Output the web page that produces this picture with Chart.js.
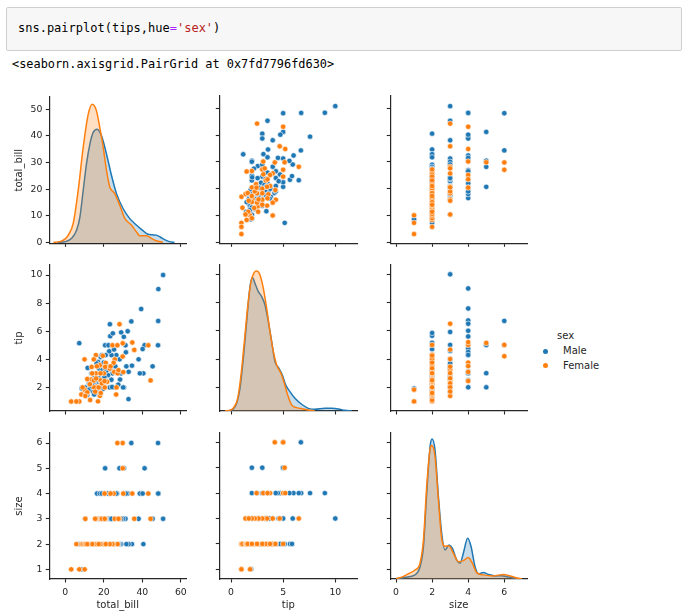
<!DOCTYPE html>
<html><head><meta charset="utf-8">
<script src="https://cdn.jsdelivr.net/npm/chart.js@4/dist/chart.umd.min.js"></script>
<style>
body{margin:0;width:682px;height:615px;background:#fff;position:relative;overflow:hidden;font-family:"DejaVu Sans",sans-serif;}
.cell{position:absolute;left:6px;top:7px;width:676px;height:44px;background:#f7f7f7;border:1px solid #cfcfcf;border-radius:2px;box-sizing:border-box;}
.code{position:absolute;left:18px;top:20px;font-size:12px;font-family:"DejaVu Sans Mono",monospace;white-space:pre;line-height:16px;color:#000;}
.out{position:absolute;left:12px;top:56px;font-size:11.9px;font-family:"DejaVu Sans Mono",monospace;white-space:pre;line-height:16px;color:#000;}
.op{color:#aa22ff}.str{color:#ba2121}
canvas{position:absolute}
.lg{position:absolute;font-size:10px;color:#262626;line-height:12px;white-space:nowrap}
.dot{position:absolute;width:5px;height:5px;border-radius:50%}
</style></head><body>
<div class="cell"></div>
<div class="code">sns.pairplot(tips,hue<span class="op">=</span><span class="str">'sex'</span>)</div>
<div class="out">&lt;seaborn.axisgrid.PairGrid at 0x7fd7796fd630&gt;</div>
<div class="lg" style="left:557px;top:330px">sex</div>
<div class="dot" style="left:542.5px;top:348.5px;background:#1f77b4"></div>
<div class="lg" style="left:563px;top:345px">Male</div>
<div class="dot" style="left:542.5px;top:363px;background:#ff7f0e"></div>
<div class="lg" style="left:563px;top:360px">Female</div>
<script>
// ---- data: [total_bill, tip, size]
const maleRows = [
[50.81,10.00,3],[48.33,9.00,4],[48.27,6.73,4],[48.17,5.00,6],[39.42,7.58,4],
[45.35,3.50,3],[40.55,3.00,2],[38.73,3.00,4],[38.07,4.00,3],[41.19,5.00,5],
[40.17,4.73,4],[32.83,1.17,2],[34.30,6.70,6],[34.63,3.55,2],[32.40,6.00,4],
[31.27,5.00,3],[30.46,2.00,5],[28.15,3.00,5],[20.69,5.00,5],[23.17,6.50,4],
[23.33,5.65,2],[22.42,5.00,2],[24.71,5.85,2],[7.25,5.15,2],[11.61,3.39,2],
[8.77,2.00,2],[8.58,1.92,1],[30.06,2.00,3],[29.03,5.92,3],[28.44,2.56,2],
[30.40,5.60,4],[26.88,3.12,4],[26.50,4.30,4],[22.00,3.50,4],[20.45,3.00,4],
[16.49,2.00,4],[31.50,4.50,4],[32.90,3.11,2],[31.71,3.50,2],[29.00,3.00,2],
[24.50,3.00,2],[23.10,2.00,2],[24.90,2.00,2],[24.00,4.30,2],[22.80,4.57,3],
[23.60,3.30,3],[21.00,4.30,2],[22.20,2.87,2],[10.34,1.66,3],[10.30,2.00,2],
[11.40,1.46,2],[13.60,1.80,2],[14.50,1.70,2],[16.20,1.70,2],[17.90,1.50,2],
[19.70,1.90,2],[17.90,2.00,2],[18.80,2.30,2],[16.20,2.35,2],[14.50,2.64,2],
[16.20,3.00,2],[17.60,3.35,2],[18.80,3.58,2],[20.00,3.77,2],[21.40,3.20,2],
[20.50,2.64,2],[17.00,3.82,2],[18.40,4.17,2],[13.60,3.00,2],[12.40,2.28,2],
[15.30,2.15,2],[21.00,2.40,2],[19.40,3.25,2],[15.50,2.50,2],[13.00,2.00,2],
[20.29,2.75,3],[17.59,2.64,3],[24.27,2.03,3],[21.01,3.50,3],[16.29,3.71,3],
[20.65,3.35,3],[23.95,2.55,3],[18.00,2.50,4],[19.00,4.29,4],[28.20,4.00,2],
[26.00,3.50,2],[27.50,2.20,2],[25.30,4.70,2],[15.00,1.50,2],[12.00,1.80,2]
];
const femaleRows = [
[3.07,1.00,1],[7.25,1.00,1],[10.07,1.83,1],
[5.75,1.00,2],[16.99,1.01,2],[12.90,1.10,2],[8.35,1.50,2],[9.00,2.00,2],
[10.00,4.00,2],[13.40,2.56,2],[12.80,2.23,2],[13.70,3.46,2],[15.90,4.30,2],
[14.80,4.00,2],[15.90,3.00,2],[19.50,4.25,2],[18.00,1.40,2],[16.20,2.05,2],
[21.70,2.40,2],[26.60,2.00,2],[26.41,1.50,2],[25.40,3.10,2],[27.20,3.00,2],
[17.90,3.58,2],[20.00,3.00,2],[11.40,2.60,2],[14.80,2.50,2],[16.40,3.50,2],
[15.00,2.00,2],[18.30,2.50,2],[24.50,5.00,2],[23.10,3.34,2],[10.60,1.50,2],
[14.00,3.00,2],[11.40,1.65,2],[18.40,1.60,2],[17.30,2.00,2],[21.00,3.75,2],
[44.30,2.50,3],[35.83,4.67,3],[28.17,6.50,3],[25.71,4.00,3],[27.60,3.23,3],
[20.70,3.46,3],[18.30,3.00,3],[16.00,2.64,3],[10.40,1.39,3],[19.00,2.28,3],
[20.50,2.00,3],[15.50,1.70,3],
[43.11,5.00,4],[34.81,5.20,4],[30.14,3.09,4],[25.10,3.75,4],[23.50,3.50,4],[20.40,2.45,4],
[29.85,5.14,5],
[29.80,4.20,6],[27.05,5.00,6]
];
// ---- density curves (in each row's tick units)
const billKdeMale = [[-4,0],[0,0.25],[3.3,1.5],[5.9,4.6],[7.6,9.6],[9.3,19.5],[11,29.5],[12.8,37],[14.5,41.3],[16.6,42.5],[18.8,40],[21.4,33.2],[24,25.1],[26.6,18.3],[30,12.7],[33.4,9.0],[36.9,6.5],[40,4.6],[42.9,3.0],[45.5,2.8],[47.2,2.7],[49.5,1.9],[51.6,1.0],[54,0.25],[56.7,0]];
const billKdeFemale = [[-6.2,0],[-2.8,0.25],[-0.2,1.2],[1.55,2.7],[4.1,7.1],[6.7,19.5],[9.3,35.7],[11.9,48.1],[14,51.9],[16.2,49.4],[17.9,43.2],[19.7,35.7],[21.4,27],[23.1,20.8],[25.7,18.3],[28.3,13.9],[30.9,9],[34.3,6.5],[36.9,4],[38.6,2.5],[42.1,2.5],[44.7,1.5],[47.2,0.6],[50.7,0]];
const tipKdeMale = [[-0.26,0.33],[0.22,0.47],[0.54,0.87],[0.86,1.93],[1.18,4.05],[1.5,6.65],[1.82,9.12],[2.05,9.78],[2.3,9.36],[2.62,8.77],[2.94,8.42],[3.26,7.83],[3.58,6.65],[3.9,5.23],[4.22,3.82],[4.6,3.34],[4.92,2.87],[5.24,2.17],[5.65,1.69],[6.13,1.22],[6.77,0.8],[7.41,0.51],[8.05,0.44],[9.0,0.51],[9.65,0.51],[10.3,0.47],[10.9,0.37],[11.6,0.33]];
const tipKdeFemale = [[-0.58,0.33],[0,0.4],[0.32,0.63],[0.64,1.22],[0.96,2.87],[1.28,5.23],[1.6,7.71],[1.92,9.48],[2.24,10.14],[2.46,10.23],[2.78,9.95],[3.1,9.0],[3.42,7.59],[3.74,5.94],[4.06,4.52],[4.38,3.58],[4.79,2.99],[5.11,2.28],[5.43,1.46],[5.81,0.75],[6.29,0.56],[6.93,0.47],[7.57,0.37],[8.05,0.33]];
const sizeKdeMale = [[0,0.63],[0.5,0.69],[1.05,0.78],[1.33,1.1],[1.52,1.89],[1.7,3.99],[1.9,5.9],[2.0,6.13],[2.16,5.7],[2.35,3.86],[2.53,2.42],[2.72,1.76],[2.94,1.96],[3.12,1.83],[3.36,1.37],[3.55,1.24],[3.73,1.63],[3.97,2.22],[4.16,1.89],[4.38,1.1],[4.57,0.82],[4.84,0.87],[5.12,0.8],[5.49,0.74],[5.86,0.75],[6.14,0.71],[6.5,0.66],[6.88,0.63]];
const sizeKdeFemale = [[0,0.63],[0.31,0.69],[0.68,0.82],[1.05,0.97],[1.33,1.24],[1.52,2.15],[1.7,4.25],[1.88,5.7],[1.98,5.87],[2.16,5.44],[2.35,3.73],[2.53,2.22],[2.72,1.91],[2.94,1.92],[3.18,1.63],[3.46,1.3],[3.73,1.34],[4.0,1.46],[4.23,1.24],[4.47,0.87],[4.84,0.78],[5.4,0.74],[5.95,0.8],[6.32,0.74],[6.69,0.66],[6.97,0.63]];
// ---- tick labels
const billTicksX = [0,20,40,60];
const tipTicksX = [0,5,10];
const sizeTicksX = [0,2,4,6];
const billTicksY = [0,10,20,30,40,50];
const tipTicksY = [2,4,6,8,10];
const sizeTicksY = [1,2,3,4,5,6];
const varNames = ['total_bill','tip','size'];

const MALE = '#1f77b4', FEMALE = '#ff7f0e';
const cols = [
 {x0:49.3, w:136.7, min:-8.31, max:62.70, ticks:billTicksX},
 {x0:219.3, w:138.0, min:-1.122, max:12.11, ticks:tipTicksX},
 {x0:390.3, w:137.0, min:-0.316, max:7.274, ticks:sizeTicksX}
];
const rows = [
 {y0:96.0, h:147.3, min:-0.373, max:54.59, ticks:billTicksY},
 {y0:264.3, h:146.7, min:0.322, max:10.708, ticks:tipTicksY},
 {y0:432.3, h:146.7, min:0.618, max:6.394, ticks:sizeTicksY}
];
const kdes = [[billKdeMale,billKdeFemale],[tipKdeMale,tipKdeFemale],[sizeKdeMale,sizeKdeFemale]];
Chart.defaults.font.family = '"DejaVu Sans"';
const INK = '#262626';
function rgba(hex,a){const n=parseInt(hex.slice(1),16);return `rgba(${n>>16},${(n>>8)&255},${n&255},${a})`;}

function makePanel(r,c){
  const col=cols[c], row=rows[r];
  const cl=Math.floor(col.x0)-52, ct=Math.floor(row.y0)-8;
  const right=Math.ceil(col.x0+col.w)+8, bottom=Math.ceil(row.y0+row.h)+36;
  const cw=right-cl, ch=bottom-ct;
  const padL=col.x0-cl, padT=row.y0-ct, padR=right-(col.x0+col.w), padB=bottom-(row.y0+row.h);
  const cv=document.createElement('canvas');
  cv.width=cw; cv.height=ch; cv.style.left=cl+'px'; cv.style.top=ct+'px';
  cv.style.width=cw+'px'; cv.style.height=ch+'px';
  document.body.appendChild(cv);
  let datasets, type;
  // Chart.js paints dataset 0 last (on top): Female first so it sits above Male, as in the reference
  if(r===c){
    type='line';
    const [km,kf]=kdes[c];
    datasets=[[kf,FEMALE],[km,MALE]].map(([k,colr])=>({
      data:k.map(p=>({x:p[0],y:p[1]})),
      borderColor:colr, backgroundColor:rgba(colr,0.25),
      fill:'start', borderWidth:1.5, pointRadius:0, cubicInterpolationMode:'monotone'
    }));
  } else {
    type='scatter';
    datasets=[[femaleRows,FEMALE],[maleRows,MALE]].map(([rs,colr])=>({
      data:rs.map(d=>({x:d[c],y:d[r]})),
      backgroundColor:colr, borderColor:'#ffffff', borderWidth:0.6,
      pointRadius:2.7, pointHoverRadius:2.7, clip:6
    }));
  }
  const tickFont={size:9.3,family:'"DejaVu Sans"'};
  const titleFont={size:10,family:'"DejaVu Sans"'};
  const yTitleCenter=19.3-cl;
  new Chart(cv,{type,data:{datasets},options:{
    responsive:false, animation:false, devicePixelRatio:1,
    events:[],
    layout:{padding:{left:0,top:padT,right:padR,bottom:0}},
    plugins:{legend:{display:false},tooltip:{enabled:false}},
    scales:{
      x:{type:'linear',position:'bottom',min:col.min,max:col.max,
        border:{display:true,color:INK,width:1.2},
        grid:{display:true,drawOnChartArea:false,drawTicks:true,tickLength:3.5,tickColor:INK,tickWidth:1.1},
        ticks:{display:r===2,font:tickFont,color:INK,padding:4.5,maxRotation:0},
        afterBuildTicks:s=>{s.ticks=col.ticks.map(v=>({value:v}));},
        afterFit:s=>{s.height=padB;},
        title:{display:r===2,text:varNames[c],font:titleFont,color:INK,padding:{top:0,bottom:4}}
      },
      y:{type:'linear',position:'left',min:row.min,max:row.max,
        border:{display:true,color:INK,width:1.2},
        grid:{display:true,drawOnChartArea:false,drawTicks:true,tickLength:3.5,tickColor:INK,tickWidth:1.1},
        ticks:{display:c===0,font:tickFont,color:INK,padding:3.5},
        afterBuildTicks:s=>{s.ticks=row.ticks.map(v=>({value:v}));},
        afterFit:s=>{s.width=padL;},
        title:{display:c===0,text:varNames[r],font:titleFont,color:INK,padding:{top:yTitleCenter-6,bottom:0}}
      }
    }
  }});
}
for(let r=0;r<3;r++)for(let c=0;c<3;c++)makePanel(r,c);
</script>
</body></html>
